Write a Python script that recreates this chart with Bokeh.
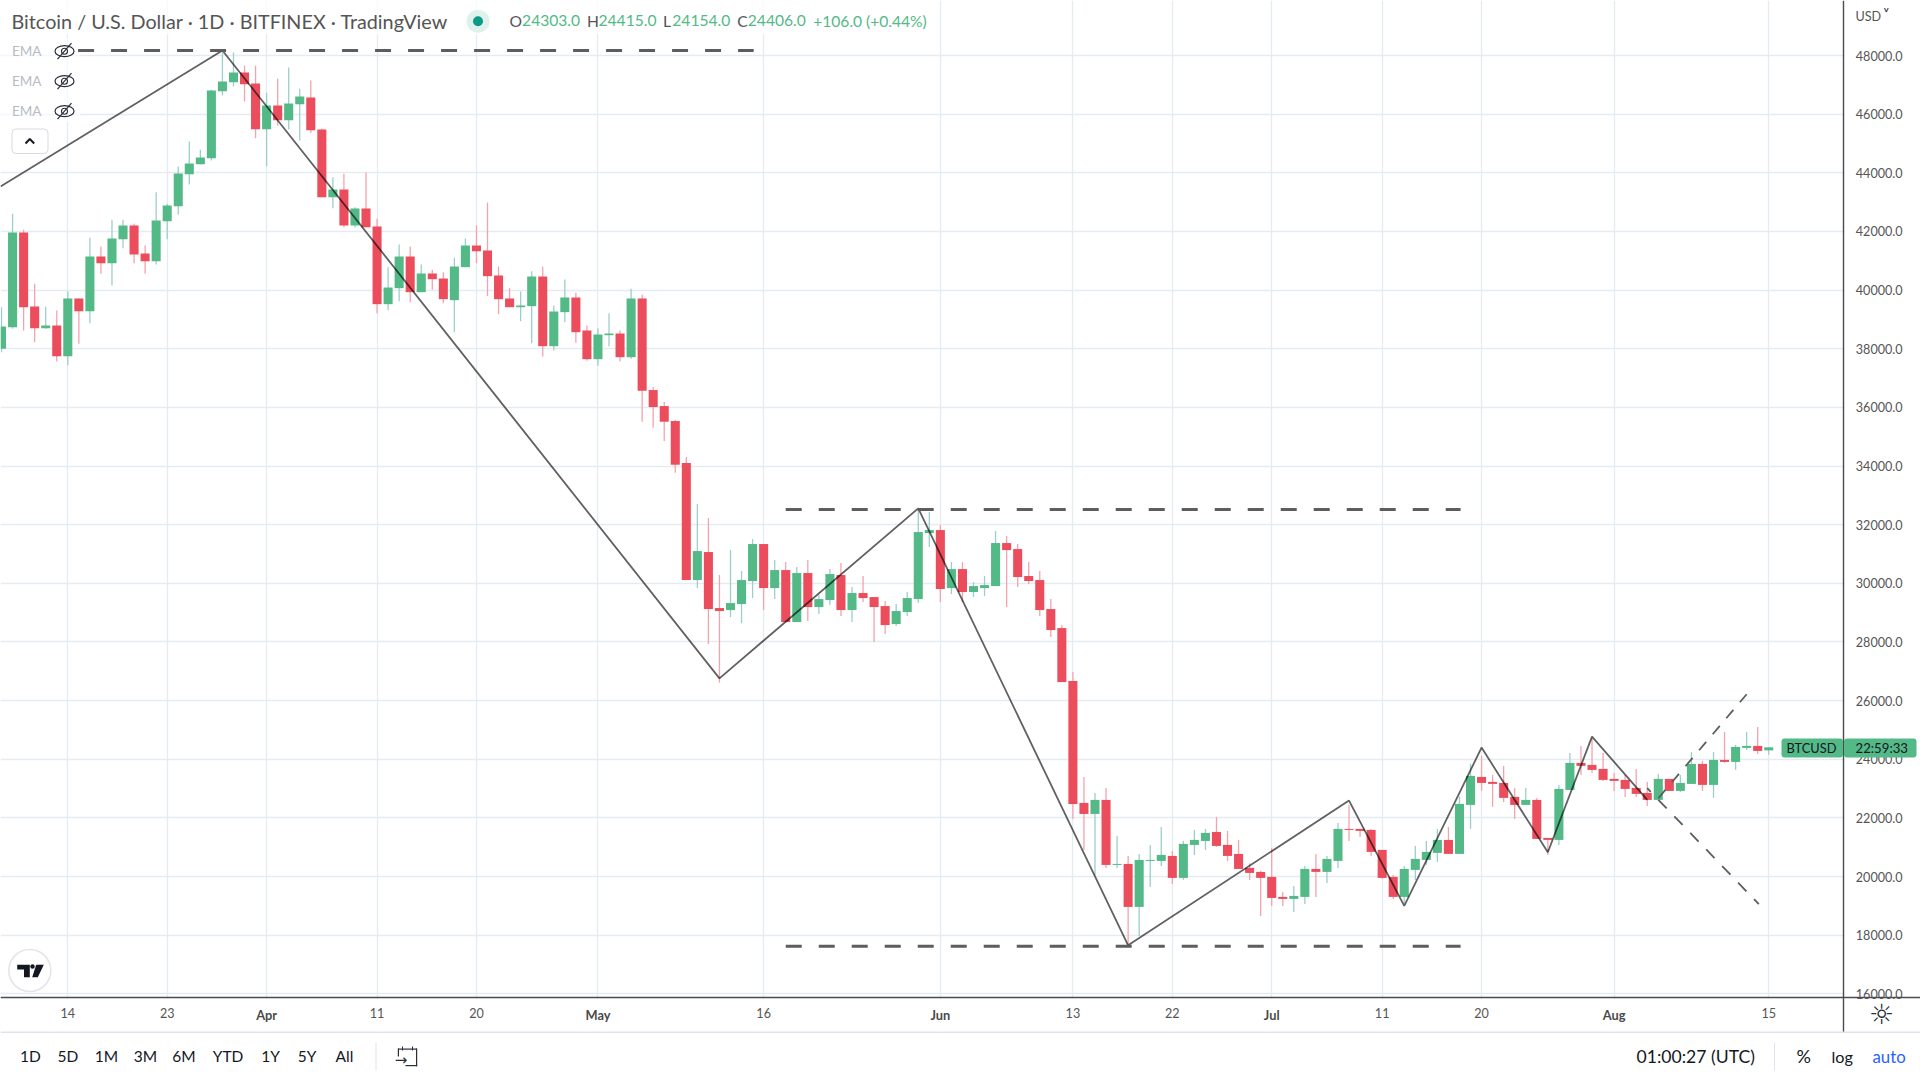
from bokeh.plotting import figure
from bokeh.models import (ColumnDataSource, FixedTicker, Label, BoxAnnotation, Range1d, NumeralTickFormatter)
from bokeh.embed import file_html
from bokeh.resources import INLINE

# ---- data: daily BTCUSD candles, day 0 = 14 March 2022
first_day = -6
opens = [37996, 38735, 41964, 39440, 38701, 38792, 37746, 39713, 39281, 41145,
         40918, 41736, 42203, 41248, 40986, 42350, 42862, 43953, 44294, 44499,
         46784, 47091, 47420, 47045, 45488, 46295, 45795, 46340, 46568, 45477,
         43169, 43430, 42203, 42782, 42169, 39520, 40065, 41145, 39929, 40566,
         40395, 39656, 40782, 41520, 41350, 40498, 39713, 39417, 39452, 40463,
         38087, 39247, 39747, 38622, 37644, 38462, 38519, 37712, 39713, 36591,
         36045, 35534, 34101, 30111, 31066, 29156, 29088, 29293, 30077, 31339,
         29838, 30452, 28679, 30350, 29190, 29429, 30282, 29088, 29668, 29531,
         29224, 28610, 29020, 29463, 31714, 31816, 29838, 30486, 29702, 29838,
         29906, 31373, 31168, 30248, 30111, 29122, 28474, 26666, 22510, 22135,
         22613, 20396, 20430, 18964, 20532, 20532, 20703, 19953, 21078, 21214,
         21521, 21078, 20771, 20294, 20157, 19987, 19305, 19237, 19305, 20260,
         20158, 20533, 21624, 21624, 21590, 20908, 19987, 19305, 20226, 20567,
         20806, 21249, 20772, 22443, 23398, 23227, 23193, 22716, 22443, 22613,
         21317, 21249, 22954, 23875, 23807, 23671, 23330, 23295, 23022, 22852,
         22613, 23330, 22920, 23159, 23841, 23125, 23977, 23909, 24387, 24455,
         24303]
highs = [39417, 42600, 42055, 40213, 39440, 39304, 39963, 39713, 41782, 41486,
         42396, 42396, 42259, 41520, 43340, 42942, 44215, 45067, 44783, 46829,
         48103, 48103, 47659, 47659, 46727, 47204, 47591, 46863, 47148, 45511,
         43851, 43965, 42828, 44010, 42430, 40782, 41555, 41486, 40873, 40691,
         40611, 41100, 41759, 42203, 42987, 40804, 40077, 39952, 40645, 40804,
         39474, 40361, 39906, 38792, 38701, 39213, 38622, 40043, 39849, 36693,
         36182, 35568, 34306, 32703, 32226, 30282, 31134, 30418, 31509, 31339,
         30793, 30725, 30555, 30793, 29600, 30486, 30691, 29872, 30248, 29531,
         29395, 29293, 29702, 32498, 32430, 31987, 30725, 30725, 30043, 30248,
         31782, 31612, 31339, 30725, 30418, 29463, 28576, 26974, 23397, 22851,
         23022, 21385, 20703, 20771, 21078, 21692, 20873, 21214, 21589, 21624,
         22033, 21555, 21249, 20453, 20191, 20976, 19476, 19680, 20362, 20772,
         20703, 21829, 22443, 21624, 21624, 20908, 20056, 20362, 21044, 21215,
         21624, 21692, 22727, 23841, 24114, 23466, 23773, 23022, 23022, 22682,
         21317, 23125, 24216, 24455, 24705, 24216, 23534, 23466, 23671, 23227,
         23500, 23330, 23466, 24250, 23943, 24250, 24932, 24489, 24932, 25103,
         24415]
lows = [37883, 38678, 38622, 38224, 38678, 37565, 37440, 38167, 38872, 40554,
        40156, 41430, 40918, 40554, 40873, 41736, 42578, 43601, 44294, 44419,
        46636, 46943, 46432, 45181, 44226, 45613, 45477, 45101, 45352, 43169,
        42794, 42146, 42146, 42146, 39213, 39315, 39622, 39588, 39929, 40009,
        39554, 38565, 40782, 40918, 39793, 39179, 39417, 38940, 38190, 37735,
        37940, 38906, 38201, 37600, 37416, 38087, 37565, 37655, 35511, 35306,
        34852, 33772, 30111, 29838, 27928, 26610, 28849, 28645, 29497, 29088,
        29463, 28679, 28679, 28713, 28951, 29259, 28883, 28679, 29361, 27997,
        28270, 28542, 28883, 29327, 31236, 29361, 29634, 29361, 29531, 29566,
        29906, 29190, 29872, 29975, 28883, 28167, 26632, 21965, 20908, 20055,
        20294, 20294, 17668, 17975, 19646, 20362, 19748, 19884, 20737, 20908,
        21010, 20532, 20260, 19884, 18657, 18998, 18998, 18794, 19067, 19305,
        19783, 20294, 21215, 21351, 20703, 19919, 19237, 19089, 19885, 20397,
        20499, 20772, 20772, 21624, 22920, 22375, 22545, 21965, 22443, 21283,
        20738, 21079, 22954, 23466, 23534, 23261, 22920, 22716, 22716, 22409,
        22613, 22920, 22886, 23159, 22920, 22682, 23875, 23636, 24318, 24182,
        24154]
closes = [38758, 41964, 39417, 38701, 38792, 37746, 39713, 39281, 41145, 40918,
          41759, 42203, 41214, 40986, 42373, 42885, 43976, 44317, 44522, 46807,
          47114, 47420, 47023, 45488, 46295, 45795, 46363, 46602, 45454, 43169,
          43430, 42203, 42782, 42146, 39520, 40088, 41145, 39929, 40566, 40372,
          39690, 40804, 41520, 41327, 40475, 39690, 39417, 39474, 40463, 38087,
          39270, 39747, 38565, 37644, 38485, 38519, 37712, 39713, 36568, 36011,
          35511, 34044, 30111, 31100, 29122, 29054, 29327, 30111, 31339, 29838,
          30452, 28679, 30350, 29190, 29463, 30316, 29088, 29668, 29497, 29190,
          28576, 29054, 29497, 31748, 31816, 29804, 30486, 29702, 29906, 29940,
          31373, 31134, 30213, 30077, 29088, 28406, 26632, 22476, 22135, 22613,
          20396, 20430, 18964, 20566, 20566, 20737, 19953, 21112, 21249, 21487,
          21044, 20703, 20260, 20123, 19953, 19270, 19237, 19339, 20260, 20158,
          20601, 21624, 21590, 21556, 20840, 19953, 19305, 20260, 20601, 20840,
          21249, 20772, 22477, 23432, 23193, 23159, 22682, 22443, 22613, 21283,
          21249, 22988, 23875, 23773, 23636, 23295, 23261, 22988, 22818, 22613,
          23330, 22920, 23193, 23841, 23125, 23977, 23909, 24421, 24455, 24284,
          24406]

price_ticks = [16000, 18000, 20000, 22000, 24000, 26000, 28000, 30000, 32000,
               34000, 36000, 38000, 40000, 42000, 44000, 46000, 48000]
day_ticks = [0, 9, 18, 28, 37, 48, 63, 79, 91, 100, 109, 119, 128, 140, 154]
day_labels = ["14", "23", "Apr", "11", "20", "May", "16", "Jun", "13", "22", "Jul", "11", "20", "Aug", "15"]
month_labels = ["Apr", "May", "Jun", "Jul", "Aug"]

swing_days = [-6.09, 14, 59, 77, 96, 116, 121, 128, 134, 138, 143]
swing_prices = [43533, 48171, 26758, 32555, 17656, 22590, 18998, 24398, 20829, 24773, 22613]
level_prices = [48171, 32521, 17622]
level_starts = [0.93, 65, 65]
level_ends = [62.1, 126.1, 126.1]
up_days = [144, 152]
up_prices = [22670, 26217]
down_days = [143, 153.1]
down_prices = [23011, 19060]

# ---- style
GREEN, RED = "#53b987", "#eb4d5c"
GREEN_W, RED_W = "#9ccfc9", "#f4a3ad"
GRID = "#e4ecf2"
AXIS = "#4a4b50"
TXT = "#555555"
FONT = "Lato"

W, H = 1920, 1080
x0, x1 = -6.093, 167.74
y_top, y_bot = 49876.0, 13044.0
X = lambda px: x0 + px * (x1 - x0) / W
Y = lambda py: y_top - py * (y_top - y_bot) / H

p = figure(width=W, height=H, output_backend="svg", toolbar_location=None,
           x_range=Range1d(x0, x1), y_range=Range1d(y_bot, y_top),
           y_axis_location="right", min_border_left=0, min_border_top=0,
           min_border_right=0, min_border_bottom=0)
p.outline_line_color = None
p.background_fill_color = "white"

# axes and grid
p.yaxis.fixed_location = X(1843.3)
p.xaxis.fixed_location = Y(997.3)
p.yaxis.ticker = FixedTicker(ticks=price_ticks)
p.yaxis.formatter = NumeralTickFormatter(format="0.0")
p.xaxis.ticker = FixedTicker(ticks=day_ticks)
p.xaxis.major_label_overrides = {d: ("" if l in month_labels else l) for d, l in zip(day_ticks, day_labels)}
for ax, standoff in ((p.yaxis[0], 12), (p.xaxis[0], 10)):
    ax.axis_line_color = AXIS
    ax.axis_line_width = 1.4
    ax.major_tick_line_color = None
    ax.minor_tick_line_color = None
    ax.major_tick_out = 0
    ax.major_tick_in = 0
    ax.major_label_standoff = standoff
    ax.major_label_text_font = FONT
    ax.major_label_text_font_size = "12.6px"
    ax.major_label_text_color = TXT
p.xgrid.ticker = FixedTicker(ticks=day_ticks)
p.ygrid.ticker = FixedTicker(ticks=price_ticks)
for g in (p.xgrid[0], p.ygrid[0]):
    g.grid_line_color = GRID
    g.grid_line_width = 1.3


def label(px, py, text, size, color=TXT, align="left", style="normal", font=FONT):
    p.add_layout(Label(x=X(px), y=Y(py), text=text, text_font=font, text_font_size=f"{size}px",
                       text_color=color, text_align=align, text_baseline="middle",
                       text_font_style=style))


def box(l, t, r, b, color, alpha=1.0, radius=0, line=None, level="annotation"):
    p.add_layout(BoxAnnotation(left=X(l), right=X(r), top=Y(t), bottom=Y(b),
                               fill_color=color, fill_alpha=alpha, line_color=line,
                               line_width=1, line_alpha=1 if line else 0,
                               border_radius=radius, level=level))


# masks that stop the grid at the price and time scales; veil behind the header
box(1844, 0, 1920, 1080, "white", level="underlay")
box(0, 998, 1920, 1080, "white", level="underlay")
box(0, 0, 935, 34, "white", 0.75, level="underlay")
box(0, 38, 80, 122, "white", 0.6, level="underlay")

# candles
days = list(range(first_day, first_day + len(opens)))
src = ColumnDataSource(dict(
    x=days, h=highs, l=lows,
    top=[max(o, c) for o, c in zip(opens, closes)],
    bottom=[min(o, c) for o, c in zip(opens, closes)],
    body=[GREEN if c >= o else RED for o, c in zip(opens, closes)],
    wick=[GREEN_W if c >= o else RED_W for o, c in zip(opens, closes)],
))
p.segment("x", "h", "x", "l", source=src, line_color="wick", line_width=1.3)
p.vbar("x", 0.82, "bottom", "top", source=src, fill_color="body", line_color="body", line_width=0)

# drawings
p.line(swing_days, swing_prices, line_color="#000000", line_alpha=0.62, line_width=1.8)
for lp, ls, le in zip(level_prices, level_starts, level_ends):
    p.line([ls, le], [lp, lp], line_color="#5d5d5d", line_width=3, line_dash=[16, 17])
p.line(up_days, up_prices, line_color="#5d5d5d", line_width=1.8, line_dash=[11, 10])
p.line(down_days, down_prices, line_color="#5d5d5d", line_width=1.8, line_dash=[12, 11], line_dash_offset=7)

# header texts
label(11, 20, "Bitcoin / U.S. Dollar · 1D · BITFINEX · TradingView", 19.8)
p.scatter([X(477.5)], [Y(20.7)], size=23, fill_color="#dff1ed", line_color=None)
p.scatter([X(477.5)], [Y(20.7)], size=10, fill_color="#0a9a85", line_color=None)
for px, t, c in [(509, "O", TXT), (521.6, "24303.0", GREEN), (586.5, "H", TXT), (598, "24415.0", GREEN),
                 (662.4, "L", TXT), (671.8, "24154.0", GREEN), (736.7, "C", TXT), (747.3, "24406.0", GREEN),
                 (812.7, "+106.0 (+0.44%)", GREEN)]:
    label(px, 20, t, 15.6, c)

# EMA legend
for py in (50.7, 80.7, 110.7):
    label(11.5, py, "EMA", 13.5, "#b8bbc4")
    p.ellipse([X(64)], [Y(py)], width=19, height=11, width_units="screen", height_units="screen",
              fill_color=None, line_color="#2a2e39", line_width=1.2)
    p.scatter([X(64)], [Y(py)], size=6, fill_color=None, line_color="#2a2e39", line_width=1.1)
    p.segment([X(57)], [Y(py + 8)], [X(71)], [Y(py - 8)], line_color="#2a2e39", line_width=1.2)
box(11.5, 128.5, 47.5, 153, "white", 1, 4, "#d8dbe3", level="underlay")
p.line([X(25), X(29.3), X(33.7)], [Y(143), Y(138.5), Y(143)], line_color="#131722", line_width=2)

# logo
p.scatter([X(29.3)], [Y(970)], size=42, fill_color="white", line_color="#e3e5ea", line_width=1.6)
p.patches([[X(16.7), X(29.3), X(29.3), X(23.5), X(23.5), X(16.7)],
           [X(35.7), X(43.3), X(37.3), X(31.7)]],
          [[Y(964.3), Y(964.3), Y(976.7), Y(976.7), Y(969), Y(969)],
           [Y(964.3), Y(964.3), Y(976.7), Y(976.7)]], fill_color="#131722", line_color=None)
p.scatter([X(32)], [Y(966)], size=4.5, fill_color="#131722", line_color=None)

# month ticks (bold)
for d, l in zip(day_ticks, day_labels):
    if l in month_labels:
        p.add_layout(Label(x=d, y=Y(1014), text=l, text_font=FONT, text_font_size="12.8px",
                           text_font_style="bold", text_color="#4a4a4a", text_align="center",
                           text_baseline="middle"))

# price axis top and live label
label(1855, 16, "USD", 12.6, TXT)
label(1882, 15, "˅", 15, "#2a2e39", font="DejaVu Sans")
box(1781, 738, 1842.5, 757, GREEN, 1, 3)
box(1843.5, 738, 1916, 757, GREEN, 1, 3)
label(1786, 747.5, "BTCUSD", 12.8, "#131722")
label(1855, 747.5, "22:59:33", 13.2, "#131722")

# lower chrome
box(1838, 1032, 1848, 1080, "white")
box(0, 1031, 1920, 1032.5, "#e0e3eb")
box(375, 1042, 376, 1070, "#e0e3eb")
box(1773.5, 1042, 1774.5, 1070, "#e0e3eb")
label(1881, 1014, "☼", 28, "#2a2e39", "center", font="DejaVu Sans")
for cx, t in [(30, "1D"), (67.5, "5D"), (106, "1M"), (145, "3M"), (183.5, "6M"),
              (227.6, "YTD"), (270, "1Y"), (306.5, "5Y"), (344, "All")]:
    label(cx, 1055.5, t, 15.5, "#131722", "center")
label(1636, 1055.5, "01:00:27 (UTC)", 17.6, "#131722")
label(1796, 1055.5, "%", 18, "#131722")
label(1831, 1055.5, "log", 16.2, "#131722")
label(1872, 1055.5, "auto", 16.8, "#2962ff")
# calendar icon
for l, t, r, b in [(397.5, 1048, 416.5, 1049.2), (415.5, 1048, 416.7, 1065.7), (405, 1064.5, 416.7, 1065.7),
                   (397.3, 1048, 398.5, 1056), (401.5, 1046, 402.5, 1050), (411.5, 1046, 412.5, 1050)]:
    box(l, t, r, b, "#2a2e39")
label(400.5, 1059.5, "→", 15, "#2a2e39", "center", font="DejaVu Sans")

open("out.html", "w").write(file_html(p, INLINE))
